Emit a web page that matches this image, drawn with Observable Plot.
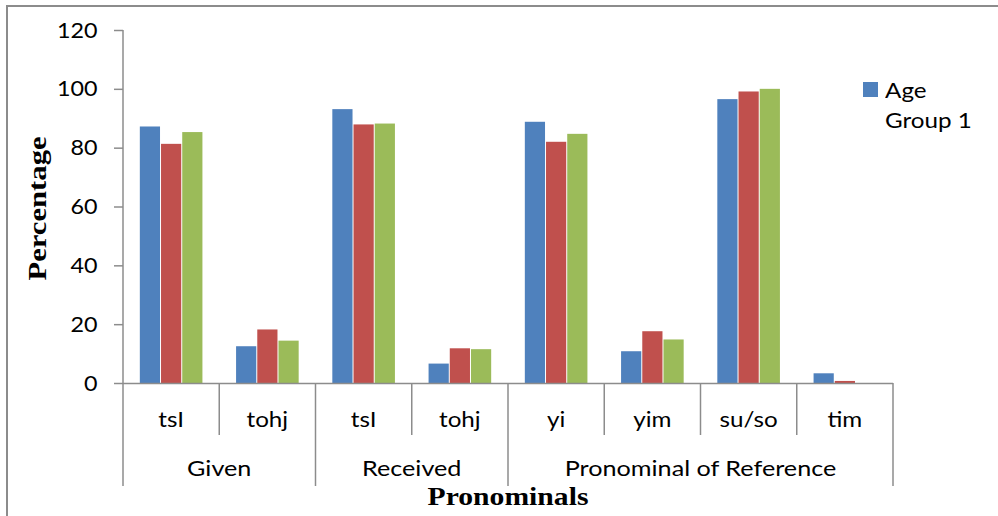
<!DOCTYPE html>
<html>
<head>
<meta charset="utf-8">
<script src="https://cdn.jsdelivr.net/npm/d3@7"></script>
<script src="https://cdn.jsdelivr.net/npm/@observablehq/plot@0.6"></script>
<style>
  html, body { margin: 0; padding: 0; background: #fff; }
  #wrap { position: relative; width: 998px; height: 516px; overflow: hidden; font-family: Lato, "Open Sans", sans-serif; }
  #border { position: absolute; left: 6px; top: 5px; width: 1200px; height: 800px; border-left: 2px solid #8c8c8c; border-top: 2px solid #8c8c8c; }
  #legend { position: absolute; left: 863px; top: 75px; font-size: 22px; line-height: 30px; color: #000; }
  #legend .sw { position: absolute; left: 0; top: 7px; width: 15px; height: 15px; }
  #legend .lab { position: absolute; left: 22px; top: 0; white-space: nowrap; transform: scaleX(1.1); transform-origin: left center; }
  svg { position: absolute; left: 0; top: 0; }
</style>
</head>
<body>
<div id="wrap"><div id="border"></div></div>
<script>
const categories = ["tsI", "tohj", "tsI", "tohj", "yi", "yim", "su/so", "tim"];
const groups = ["Given", "Given", "Received", "Received", "Pronominal of Reference", "Pronominal of Reference", "Pronominal of Reference", "Pronominal of Reference"];
const seriesNames = ["Age Group 1", "Age Group 2", "Age Group 3"];
const ageGroup1 = [87.2, 12.5, 93.1, 6.6, 88.8, 10.8, 96.5, 3.3];
const ageGroup2 = [81.3, 18.2, 87.9, 11.8, 82.0, 17.6, 99.1, 0.7];
const ageGroup3 = [85.3, 14.4, 88.2, 11.5, 84.7, 14.8, 100.0, 0.0];
const seriesColors = ["#4F81BD", "#C0504D", "#9BBB59"];
const yTicks = [0, 20, 40, 60, 80, 100, 120];
const yTitle = "Percentage";
const xTitle = "Pronominals";

const seriesValues = [ageGroup1, ageGroup2, ageGroup3];
const rows = [];
categories.forEach((c, i) => {
  seriesNames.forEach((s, j) => {
    rows.push({key: i, cat: c, series: s, value: seriesValues[j][i]});
  });
});

const grey = "#8c8c8c";

const plot = Plot.plot({
  width: 998,
  height: 516,
  marginLeft: 123,
  marginRight: 105,
  marginTop: 30,
  marginBottom: 133,
  style: {fontFamily: "Lato, 'Open Sans', sans-serif", fontSize: "22px", background: "transparent", overflow: "visible"},
  fx: {domain: d3.range(categories.length), padding: 0, axis: null, round: false},
  x: {domain: seriesNames, paddingInner: 0, paddingOuter: 0.77, axis: null, round: false},
  y: {domain: [0, 120], axis: null},
  color: {domain: seriesNames, range: seriesColors},
  marks: [
    Plot.barY(rows, {fx: "key", x: "series", y: "value", fill: "series", insetLeft: 0.5, insetRight: 0.5}),
    Plot.ruleY([0], {stroke: grey, strokeWidth: 1.5}),
    Plot.axisY(yTicks, {tickSize: 9, tickPadding: 17, stroke: grey, strokeWidth: 1.5, fill: "black", fontSize: 22, label: null})
  ]
});

document.getElementById("wrap").appendChild(plot);

function stretch(nodes, factor) {
  nodes.forEach((node) => {
    const len = node.getComputedTextLength();
    if (len > 0) {
      node.setAttribute("textLength", len * factor);
      node.setAttribute("lengthAdjust", "spacingAndGlyphs");
    }
  });
}

// multi-level category axis drawn from Plot's own scales
const fxs = plot.scale("fx");
const ys = plot.scale("y");
const bw = fxs.bandwidth;
const fxPos = (i) => (fxs.apply ? fxs.apply(i) : fxs.range[0] + i * bw);
const edge = (i) => (i < categories.length ? fxPos(i) : fxPos(categories.length - 1) + bw);
const yPos = (v) => (ys.apply ? ys.apply(v) : ys.range[0] + (ys.range[1] - ys.range[0]) * (v - ys.domain[0]) / (ys.domain[1] - ys.domain[0]));
const y0 = yPos(0);
const yTop = yPos(120);
const shortLen = 52, longLen = 103;

const svg = d3.select(plot);
const g = svg.append("g").attr("stroke", grey).attr("stroke-width", 1.5);

const groupEdges = [0];
for (let i = 1; i < groups.length; i++) if (groups[i] !== groups[i - 1]) groupEdges.push(i);
groupEdges.push(groups.length);

for (let i = 0; i <= categories.length; i++) {
  const isGroup = groupEdges.includes(i);
  const x = edge(i);
  g.append("line")
    .attr("x1", x).attr("x2", x)
    .attr("y1", i === 0 ? yTop : y0)
    .attr("y2", y0 + (isGroup ? longLen : shortLen));
}

const t = svg.append("g").attr("fill", "black").attr("font-family", "Lato, 'Open Sans', sans-serif").attr("font-size", 22).attr("text-anchor", "middle");
const catTexts = [];
categories.forEach((c, i) => {
  catTexts.push(t.append("text").attr("x", fxPos(i) + bw / 2).attr("y", y0 + 44).text(c).node());
});
const grpTexts = [];
for (let k = 0; k < groupEdges.length - 1; k++) {
  const a = groupEdges[k], b = groupEdges[k + 1];
  grpTexts.push(t.append("text").attr("x", (edge(a) + edge(b)) / 2).attr("y", y0 + 93).text(groups[a]).node());
}

const yT = svg.append("text")
  .attr("transform", `translate(37,${(y0 + yTop) / 2 + 2}) rotate(-90)`)
  .attr("text-anchor", "middle").attr("dy", "0.35em")
  .attr("font-family", "'Liberation Serif', 'DejaVu Serif', serif").attr("font-weight", "bold").attr("font-size", 26)
  .attr("fill", "black").text(yTitle).node();
const xT = svg.append("text")
  .attr("x", (edge(0) + edge(categories.length)) / 2).attr("y", y0 + 122)
  .attr("text-anchor", "middle")
  .attr("font-family", "'Liberation Serif', 'DejaVu Serif', serif").attr("font-weight", "bold").attr("font-size", 26)
  .attr("fill", "black").text(xTitle).node();

stretch(catTexts, 1.1);
stretch(grpTexts, 1.145);
stretch([yT], 1.18);
stretch([xT], 1.14);
stretch(Array.from(plot.querySelectorAll('g[aria-label="y-axis tick label"] text')), 1.06);

// legend (only first series visible, as in the original)
const legend = document.createElement("div");
legend.id = "legend";
legend.innerHTML = `<div class="sw" style="background:${seriesColors[0]}"></div><div class="lab">Age<br>Group 1</div>`;
document.getElementById("wrap").appendChild(legend);
</script>
</body>
</html>
